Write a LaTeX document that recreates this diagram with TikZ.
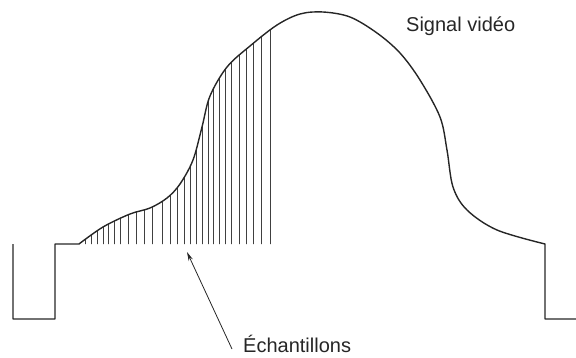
\documentclass[tikz,border=0pt]{standalone}
\usepackage{fontspec}
\setmainfont{Liberation Sans}
\usetikzlibrary{arrows.meta}
\begin{document}
\begin{tikzpicture}[x=1pt,y=-1pt,
  signal/.style={line width=1.4pt, black!85, line join=round},
  sample/.style={line width=0.7pt, black!75},
  pointer/.style={line width=0.8pt, black!85, -{Stealth[length=9pt,width=4.5pt]}},
  lbl/.style={font=\fontsize{20}{24}\selectfont, text=black!85, inner sep=0pt, anchor=base west}]
\useasboundingbox (0,0) rectangle (576,357);
\def\sigcurve{(79,244) (103,227) (130,214) (150,208) (167,198) (180,184) (193,160) (202,127) (210,96) (227,67) (250,46) (277,25) (300,14) (323,12) (350,17) (377,33) (400,53) (420,80) (440,117) (447,150) (453,187) (467,210) (497,230) (545,244)}
% samples
\begin{scope}
  \clip plot[smooth,tension=0.55] coordinates {\sigcurve} -- cycle;
  \foreach \x in {85.7,91.7,97.7,103,108.3,114,120.7,128.3,136,144,152.7,162.3,170,177.3,184,190.7,196.7,202.7,208.3,213.3,219,225,231.7,239,246,253.3,261.7,270}
    \draw[sample] (\x,245) -- (\x,0);
\end{scope}
% signal
\draw[signal] (13,244) -- (13,319) -- (55,319) -- (55,244) -- plot[smooth,tension=0.55] coordinates {\sigcurve} -- (545,319) -- (576,319);
% labels
\node[lbl] (sig) at (406,31.7) {Signal vidéo};
\node[lbl] (ech) at (243,352.7) {Échantillons};
\coordinate (tail) at (232,349);
\coordinate (tip) at (187,252);
\draw[pointer] (tail) -- (tip);
\end{tikzpicture}
\end{document}
